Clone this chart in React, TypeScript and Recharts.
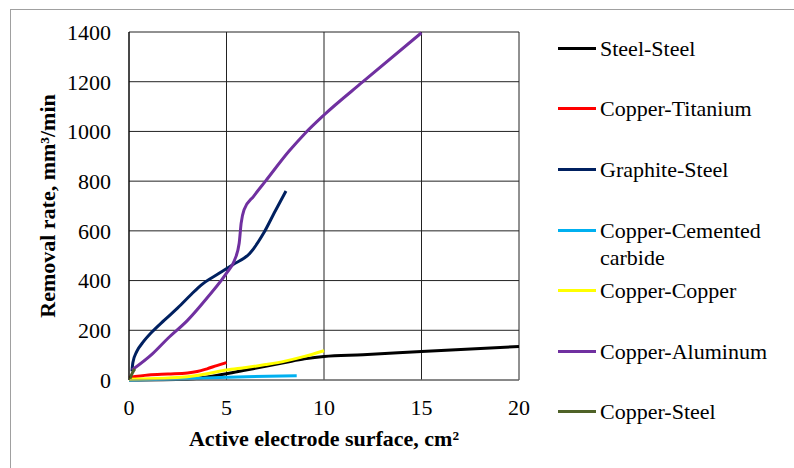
import { LineChart, Line, XAxis, YAxis, CartesianGrid } from 'recharts';

const steelSteelX = [0, 3, 4, 5, 6, 7, 8, 9, 10, 12, 15, 20];
const steelSteelY = [0, 3, 12, 25, 40, 55, 70, 85, 95, 102, 115, 135];

const copperTitaniumX = [0, 1, 2, 3, 3.5, 4, 4.5, 5];
const copperTitaniumY = [10, 20, 24, 28, 34, 45, 58, 70];

const graphiteSteelX = [0.15, 0.2, 0.4, 0.7, 1.2, 1.8, 2.5, 3.2, 3.7, 4.6, 5.3, 6.2, 6.9, 7.5, 8.05];
const graphiteSteelY = [35, 70, 115, 150, 195, 240, 290, 345, 382, 428, 463, 510, 590, 680, 760];

const copperCarbideX = [0, 2, 4, 6, 8.6];
const copperCarbideY = [0, 3, 8, 13, 17];

const copperCopperX = [0, 1, 2, 3, 4, 5, 6, 7, 8, 9, 10];
const copperCopperY = [3, 5, 8, 13, 25, 40, 50, 62, 76, 95, 118];

const copperAluminumX = [0.15, 1.2, 2, 3, 4, 5, 5.4, 5.65, 5.75, 5.9, 6.4, 7, 8.2, 9, 10, 12, 15];
const copperAluminumY = [40, 105, 168, 240, 330, 430, 480, 550, 630, 685, 740, 800, 920, 990, 1066, 1200, 1397];

const copperSteelX = [0.05, 0.15, 0.3];
const copperSteelY = [5, 25, 45];

const xTicks = [0, 5, 10, 15, 20];
const yTicks = [0, 200, 400, 600, 800, 1000, 1200, 1400];

const pts = (xs: number[], ys: number[]) => xs.map((x, i) => ({ x, y: ys[i] }));

const series = [
  { name: 'Steel-Steel', name2: '', color: '#000000', data: pts(steelSteelX, steelSteelY) },
  { name: 'Copper-Titanium', name2: '', color: '#ff0000', data: pts(copperTitaniumX, copperTitaniumY) },
  { name: 'Graphite-Steel', name2: '', color: '#002060', data: pts(graphiteSteelX, graphiteSteelY) },
  { name: 'Copper-Cemented', name2: 'carbide', color: '#00b0f0', data: pts(copperCarbideX, copperCarbideY) },
  { name: 'Copper-Copper', name2: '', color: '#ffff00', data: pts(copperCopperX, copperCopperY) },
  { name: 'Copper-Aluminum', name2: '', color: '#7030a0', data: pts(copperAluminumX, copperAluminumY) },
  { name: 'Copper-Steel', name2: '', color: '#4f6228', data: pts(copperSteelX, copperSteelY) },
];

const legendCenters = [48, 108.5, 169, 230, 290.5, 351, 411.5];

const css = `.chart-root, .chart-root * { font-family: 'Liberation Serif', serif !important; }`;

export default function App() {
  return (
    <div className="chart-root" style={{ position: 'absolute', left: 0, top: 0, width: 794, height: 468, overflow: 'hidden', background: '#fff' }}>
      <style>{css}</style>
      <div style={{ position: 'absolute', left: 10, top: 9, width: 820, height: 500, border: '1px solid #a0a0a0' }} />
      <div style={{ position: 'absolute', left: 0, top: 0 }}>
        <LineChart width={794} height={468} margin={{ top: 32, right: 275, bottom: 28, left: 69 }}>
          <CartesianGrid stroke="#222" strokeWidth={1} />
          <XAxis
            dataKey="x"
            type="number"
            domain={[0, 20]}
            ticks={xTicks}
            allowDuplicatedCategory={false}
            height={60}
            axisLine={{ stroke: '#808080' }}
            tickLine={false}
            tickSize={0}
            tickMargin={19}
            tick={{ fill: '#000', fontSize: 22, fontFamily: 'Liberation Serif' }}
          />
          <YAxis
            type="number"
            domain={[0, 1400]}
            ticks={yTicks}
            width={60}
            axisLine={{ stroke: '#000' }}
            tickLine={false}
            tickSize={0}
            tickMargin={18}
            tick={{ fill: '#000', fontSize: 22, fontFamily: 'Liberation Serif' }}
          />
          {series.map(s => (
            <Line
              key={s.name}
              data={s.data}
              dataKey="y"
              type="monotone"
              stroke={s.color}
              strokeWidth={3}
              dot={false}
              activeDot={false}
              isAnimationActive={false}
            />
          ))}
        </LineChart>
      </div>
      <div style={{ position: 'absolute', left: -102, top: 195, width: 300, height: 22, lineHeight: '22px', fontSize: 22, fontWeight: 'bold', textAlign: 'center', transform: 'rotate(-90deg)' }}>
        Removal rate, mm³/min
      </div>
      <div style={{ position: 'absolute', left: 124, top: 428, width: 400, lineHeight: '22px', fontSize: 22, fontWeight: 'bold', textAlign: 'center' }}>
        Active electrode surface, cm²
      </div>
      {series.map((s, i) => (
        <div key={s.name} style={{ position: 'absolute', left: 558, top: legendCenters[i] - 13.5, width: 230 }}>
          <div style={{ position: 'absolute', left: 0, top: 12, width: 38, height: 3, background: s.color }} />
          <div style={{ position: 'absolute', left: 42, top: 0, width: 190, fontSize: 22, lineHeight: '27px', color: '#000' }}>
            {s.name}
            {s.name2 ? <br /> : null}
            {s.name2}
          </div>
        </div>
      ))}
    </div>
  );
}
